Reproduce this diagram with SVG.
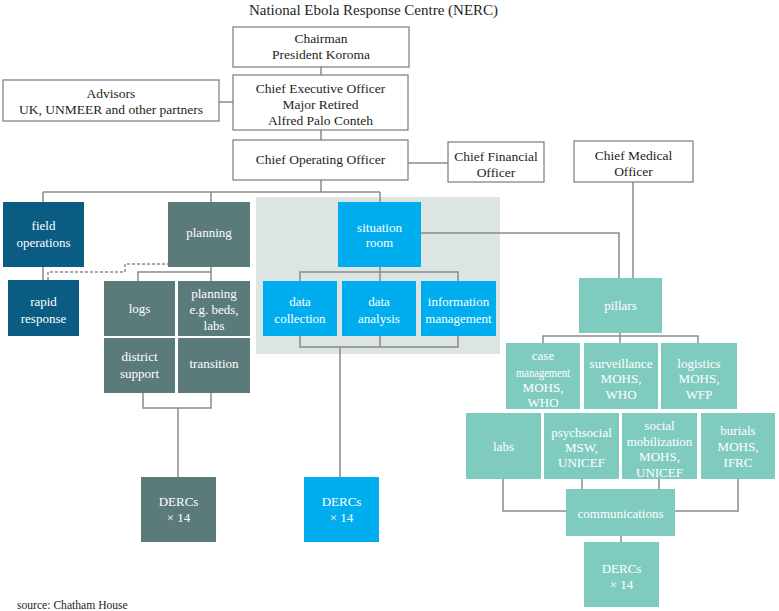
<svg xmlns="http://www.w3.org/2000/svg" width="779" height="611" viewBox="0 0 779 611">
<style>
text{font-family:"Liberation Serif","Times New Roman",serif;text-anchor:middle}
.t{font-size:13.5px;fill:#231f20}
.w{font-size:13px;fill:#ffffff}
.ob{fill:#ffffff;stroke:#7a7a7a;stroke-width:1.2}
.db{fill:#0a5c82}
.sl{fill:#5b7b7b}
.cy{fill:#00aeef}
.tl{fill:#80cbbf}
.ln{fill:none;stroke:#8a8a8a;stroke-width:1.5}
.dl{fill:none;stroke:#8a8a8a;stroke-width:1.5;stroke-dasharray:3 2}
</style>
<rect width="779" height="611" fill="#ffffff"/>
<text x="373.5" y="15" style="font-size:15px;fill:#231f20">National Ebola Response Centre (NERC)</text>
<rect x="256" y="197" width="244" height="157" fill="#dde4e4"/>
<g id="connectors">
<path class="ln" d="M321 67V75M219 102H233M321 130V140M408 163H448M321 180V192M43 192H380M43 192V202M211 192V202M380 192V202M43 267V280"/>
<path class="dl" d="M48 280V272H125V264H168"/>
<path class="ln" d="M211 267V272M138 281V272H211V281M143 393V408H211V393M178 408V477"/>
<path class="ln" d="M380 267V281M300 281V272H458V281M300 336V347H458V336M380 336V347M340 347V477"/>
<path class="ln" d="M421 233H619V278M633 182V278"/>
<path class="ln" d="M620 333V343M543 343V336H698V343"/>
<path class="ln" d="M503 479V511H566M738 479V511H675M582 479V489M659 479V489M621 536V542"/>
</g>
<g id="chairman"><rect class="ob" x="233" y="27" width="176" height="40"/><text class="t" x="321" y="43">Chairman</text><text class="t" x="321" y="59">President Koroma</text></g>
<g id="advisors"><rect class="ob" x="3" y="80" width="216" height="41"/><text class="t" x="111" y="97.5">Advisors</text><text class="t" x="111" y="113.5">UK, UNMEER and other partners</text></g>
<g id="ceo"><rect class="ob" x="233" y="75" width="175" height="55"/><text class="t" x="320.5" y="92.5">Chief Executive Officer</text><text class="t" x="320.5" y="108.5">Major Retired</text><text class="t" x="320.5" y="124.5">Alfred Palo Conteh</text></g>
<g id="coo"><rect class="ob" x="233" y="140" width="175" height="40"/><text class="t" x="320.5" y="163.5">Chief Operating Officer</text></g>
<g id="cfo"><rect class="ob" x="448" y="142" width="96" height="40"/><text class="t" x="496" y="160.5">Chief Financial</text><text class="t" x="496" y="177">Officer</text></g>
<g id="cmo"><rect class="ob" x="574" y="141" width="119" height="41"/><text class="t" x="633.5" y="159.5">Chief Medical</text><text class="t" x="633.5" y="176">Officer</text></g>
<g id="field-operations"><rect class="db" x="3" y="202" width="81" height="65"/><text class="w" x="43.5" y="229.5">field</text><text class="w" x="43.5" y="246.5">operations</text></g>
<g id="rapid-response"><rect class="db" x="8" y="280" width="71" height="56"/><text class="w" x="43.5" y="305.5">rapid</text><text class="w" x="43.5" y="322.5">response</text></g>
<g id="planning"><rect class="sl" x="168" y="202" width="82" height="65"/><text class="w" x="209" y="236.5">planning</text></g>
<g id="logs"><rect class="sl" x="104" y="281" width="71" height="55"/><text class="w" x="139.5" y="312.5">logs</text></g>
<g id="planning-beds"><rect class="sl" x="178" y="281" width="72" height="55"/><text class="w" x="214" y="297.5">planning</text><text class="w" x="214" y="313.5">e.g. beds,</text><text class="w" x="214" y="329.5">labs</text></g>
<g id="district-support"><rect class="sl" x="104" y="338" width="71" height="55"/><text class="w" x="139.5" y="360.5">district</text><text class="w" x="139.5" y="377.5">support</text></g>
<g id="transition"><rect class="sl" x="178" y="338" width="72" height="55"/><text class="w" x="214" y="367.5">transition</text></g>
<g id="dercs-planning"><rect class="sl" x="141" y="477" width="75" height="65"/><text class="w" x="178.5" y="506">DERCs</text><text class="w" x="178.5" y="522">× 14</text></g>
<g id="situation-room"><rect class="cy" x="338" y="202" width="83" height="65"/><text class="w" x="379.5" y="231.5">situation</text><text class="w" x="379.5" y="246.5">room</text></g>
<g id="data-collection"><rect class="cy" x="263" y="281" width="74" height="55"/><text class="w" x="300" y="305.5">data</text><text class="w" x="300" y="322.5">collection</text></g>
<g id="data-analysis"><rect class="cy" x="342" y="281" width="74" height="55"/><text class="w" x="379" y="305.5">data</text><text class="w" x="379" y="322.5">analysis</text></g>
<g id="information-management"><rect class="cy" x="421" y="281" width="75" height="55"/><text class="w" x="458.5" y="305.5">information</text><text class="w" x="458.5" y="322.5">management</text></g>
<g id="dercs-situation"><rect class="cy" x="304" y="477" width="75" height="65"/><text class="w" x="341.5" y="506">DERCs</text><text class="w" x="341.5" y="522">× 14</text></g>
<g id="pillars"><rect class="tl" x="579" y="278" width="83" height="55"/><text class="w" x="620.5" y="309.5">pillars</text></g>
<g id="case-management"><rect class="tl" x="506" y="343" width="74" height="66"/><text class="w" x="543" y="359.5">case</text><text class="w" x="543" y="376.5" textLength="54" lengthAdjust="spacingAndGlyphs">management</text><text class="w" x="543" y="391.5">MOHS,</text><text class="w" x="543" y="406.5">WHO</text></g>
<g id="surveillance"><rect class="tl" x="584" y="343" width="74" height="66"/><text class="w" x="621" y="367.5">surveillance</text><text class="w" x="621" y="382.5">MOHS,</text><text class="w" x="621" y="398.5">WHO</text></g>
<g id="logistics"><rect class="tl" x="661" y="343" width="76" height="66"/><text class="w" x="699" y="367.5">logistics</text><text class="w" x="699" y="382.5">MOHS,</text><text class="w" x="699" y="398.5">WFP</text></g>
<g id="labs"><rect class="tl" x="466" y="413" width="75" height="66"/><text class="w" x="503.5" y="450.5">labs</text></g>
<g id="psychsocial"><rect class="tl" x="544" y="413" width="75" height="66"/><text class="w" x="581.5" y="436.5">psychsocial</text><text class="w" x="581.5" y="451.5">MSW,</text><text class="w" x="581.5" y="466.5">UNICEF</text></g>
<g id="social-mobilization"><rect class="tl" x="622" y="413" width="75" height="66"/><text class="w" x="659.5" y="429.5">social</text><text class="w" x="659.5" y="445.5">mobilization</text><text class="w" x="659.5" y="460.5">MOHS,</text><text class="w" x="659.5" y="476.5">UNICEF</text></g>
<g id="burials"><rect class="tl" x="701" y="413" width="74" height="66"/><text class="w" x="738" y="434.5">burials</text><text class="w" x="738" y="450.5">MOHS,</text><text class="w" x="738" y="466.5">IFRC</text></g>
<g id="communications"><rect class="tl" x="566" y="489" width="109" height="47"/><text class="w" x="620.5" y="517.5">communications</text></g>
<g id="dercs-pillars"><rect class="tl" x="584" y="542" width="75" height="65"/><text class="w" x="621.5" y="572.5">DERCs</text><text class="w" x="621.5" y="588.5">× 14</text></g>
<text x="17" y="609" style="font-size:11.6px;fill:#231f20;text-anchor:start">source: Chatham House</text>
</svg>
